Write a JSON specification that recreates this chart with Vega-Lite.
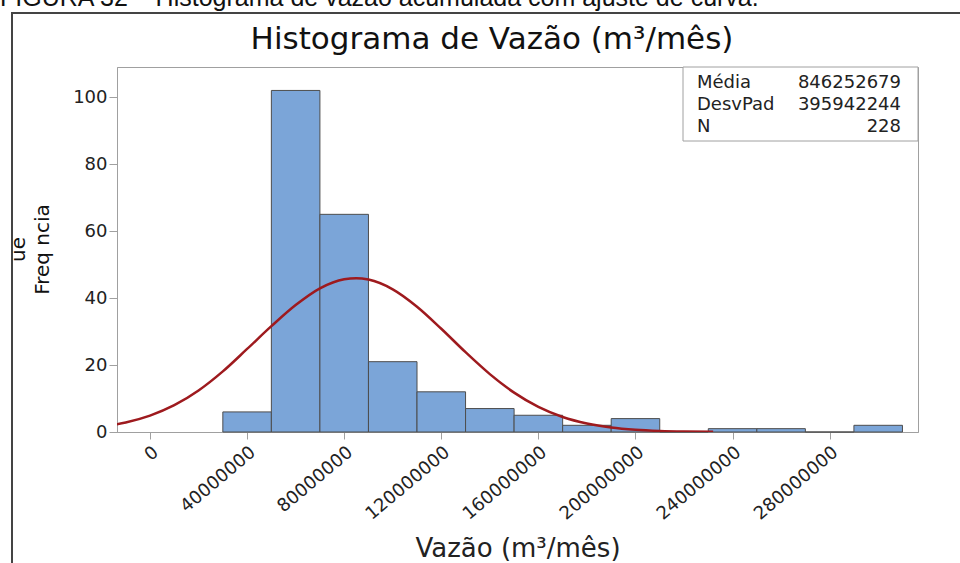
{
  "$schema": "https://vega.github.io/schema/vega-lite/v6.json",
  "width": 801,
  "height": 365,
  "autosize": {"type": "none"},
  "padding": {"left": 117, "top": 67, "right": 42, "bottom": 131},
  "background": "white",
  "config": {
    "view": {"stroke": "#a0a0a0", "strokeWidth": 1},
    "font": "DejaVu Sans"
  },
  "datasets": {
    "barras": [
      {"inicio": 30000000, "fim": 50000000, "frequencia": 6},
      {"inicio": 50000000, "fim": 70000000, "frequencia": 102},
      {"inicio": 70000000, "fim": 90000000, "frequencia": 65},
      {"inicio": 90000000, "fim": 110000000, "frequencia": 21},
      {"inicio": 110000000, "fim": 130000000, "frequencia": 12},
      {"inicio": 130000000, "fim": 150000000, "frequencia": 7},
      {"inicio": 150000000, "fim": 170000000, "frequencia": 5},
      {"inicio": 170000000, "fim": 190000000, "frequencia": 2},
      {"inicio": 190000000, "fim": 210000000, "frequencia": 4},
      {"inicio": 210000000, "fim": 230000000, "frequencia": 0},
      {"inicio": 230000000, "fim": 250000000, "frequencia": 1},
      {"inicio": 250000000, "fim": 270000000, "frequencia": 1},
      {"inicio": 270000000, "fim": 290000000, "frequencia": 0},
      {"inicio": 290000000, "fim": 310000000, "frequencia": 2}
    ],
    "curva": [
      {"vazao": -20000000, "ajuste": 1.60},
      {"vazao": -10000000, "ajuste": 2.85},
      {"vazao": 0, "ajuste": 4.90},
      {"vazao": 10000000, "ajuste": 8.00},
      {"vazao": 20000000, "ajuste": 12.40},
      {"vazao": 30000000, "ajuste": 18.10},
      {"vazao": 40000000, "ajuste": 24.80},
      {"vazao": 50000000, "ajuste": 31.60},
      {"vazao": 60000000, "ajuste": 37.90},
      {"vazao": 70000000, "ajuste": 42.91},
      {"vazao": 80000000, "ajuste": 45.63},
      {"vazao": 85000000, "ajuste": 45.94},
      {"vazao": 90000000, "ajuste": 45.52},
      {"vazao": 100000000, "ajuste": 42.61},
      {"vazao": 110000000, "ajuste": 37.42},
      {"vazao": 120000000, "ajuste": 30.83},
      {"vazao": 130000000, "ajuste": 23.83},
      {"vazao": 140000000, "ajuste": 17.29},
      {"vazao": 150000000, "ajuste": 11.76},
      {"vazao": 160000000, "ajuste": 7.50},
      {"vazao": 170000000, "ajuste": 4.49},
      {"vazao": 180000000, "ajuste": 2.53},
      {"vazao": 190000000, "ajuste": 1.33},
      {"vazao": 200000000, "ajuste": 0.66},
      {"vazao": 210000000, "ajuste": 0.31},
      {"vazao": 220000000, "ajuste": 0.13},
      {"vazao": 232000000, "ajuste": 0.05}
    ],
    "estatisticas": [
      {"estatistica": "Média", "valor": "846252679"},
      {"estatistica": "DesvPad", "valor": "395942244"},
      {"estatistica": "N", "valor": "228"}
    ],
    "textos": [
      {"texto": "FIGURA 32 – Histograma de vazão acumulada com ajuste de curva."}
    ],
    "titulo": [
      {"texto": "Histograma de Vazão (m³/mês)"}
    ]
  },
  "layer": [
    {
      "layer": [
        {
          "data": {"name": "barras"},
          "mark": {"type": "rect", "fill": "#7BA5D8", "stroke": "#4d4d4d", "strokeWidth": 1},
          "encoding": {
            "x": {
              "field": "inicio",
              "type": "quantitative",
              "scale": {"domain": [-13600000, 316400000], "nice": false, "zero": false},
              "axis": {
                "values": [0, 40000000, 80000000, 120000000, 160000000, 200000000, 240000000, 280000000],
                "format": "d",
                "labelAngle": -40,
                "labelFontSize": 18,
                "labelColor": "#222222",
                "labelPadding": 4,
                "grid": false,
                "domainColor": "#a0a0a0",
                "tickColor": "#a0a0a0",
                "tickSize": 7,
                "title": "Vazão (m³/mês)",
                "titleFontSize": 26,
                "titleFontWeight": "normal",
                "titleColor": "#222222",
                "titleBaseline": "alphabetic",
                "titleY": 124
              }
            },
            "x2": {"field": "fim"},
            "y": {
              "field": "frequencia",
              "type": "quantitative",
              "scale": {"domain": [0, 109], "nice": false},
              "axis": {
                "values": [0, 20, 40, 60, 80, 100],
                "labelFontSize": 18,
                "labelColor": "#222222",
                "labelPadding": 2,
                "grid": false,
                "domainColor": "#a0a0a0",
                "tickColor": "#a0a0a0",
                "tickSize": 8,
                "title": ["ue", "Freq      ncia"],
                "titleFontSize": 20,
                "titleFontWeight": "normal",
                "titleColor": "#111111",
                "titleAngle": -90,
                "titleAlign": "center",
                "titleBaseline": "alphabetic",
                "titleLineHeight": 24,
                "titleX": -93,
                "titleY": 182
              }
            },
            "y2": {"datum": 0}
          }
        },
        {
          "data": {"name": "curva"},
          "mark": {"type": "line", "color": "#9E1A1E", "strokeWidth": 2.5, "interpolate": "monotone", "clip": true},
          "encoding": {
            "x": {"field": "vazao", "type": "quantitative"},
            "y": {"field": "ajuste", "type": "quantitative"}
          }
        }
      ]
    },
    {
      "data": {"values": [{}]},
      "mark": {"type": "rect", "fill": "white", "stroke": "#a0a0a0", "strokeWidth": 1},
      "encoding": {
        "x": {"value": 566},
        "x2": {"value": 801},
        "y": {"value": 0},
        "y2": {"value": 74}
      }
    },
    {
      "data": {"name": "estatisticas"},
      "encoding": {
        "y": {
          "field": "estatistica",
          "type": "ordinal",
          "scale": {"domain": ["Média", "DesvPad", "N"], "range": [21, 65], "padding": 0},
          "axis": null
        }
      },
      "layer": [
        {
          "mark": {"type": "text", "align": "left", "baseline": "alphabetic", "fontSize": 18, "color": "#222222"},
          "encoding": {"x": {"value": 580}, "text": {"field": "estatistica"}}
        },
        {
          "mark": {"type": "text", "align": "right", "baseline": "alphabetic", "fontSize": 18, "color": "#222222"},
          "encoding": {"x": {"value": 784}, "text": {"field": "valor"}}
        }
      ]
    },
    {
      "data": {"name": "titulo"},
      "mark": {"type": "text", "align": "center", "baseline": "alphabetic", "font": "DejaVu Sans", "fontSize": 31, "color": "#111111"},
      "encoding": {"x": {"value": 375}, "y": {"value": -18}, "text": {"field": "texto"}}
    },
    {
      "data": {"name": "textos"},
      "mark": {"type": "text", "align": "left", "baseline": "alphabetic", "font": "Liberation Sans", "fontSize": 25, "color": "#111111"},
      "encoding": {"x": {"value": -117}, "y": {"value": -61}, "text": {"field": "texto"}}
    },
    {
      "data": {"values": [{}]},
      "mark": {"type": "rect", "fill": null, "fillOpacity": 0, "stroke": "#444444", "strokeWidth": 2},
      "encoding": {
        "x": {"value": -105},
        "x2": {"value": 860},
        "y": {"value": -54},
        "y2": {"value": 510}
      }
    }
  ],
  "resolve": {"scale": {"y": "independent"}}
}
